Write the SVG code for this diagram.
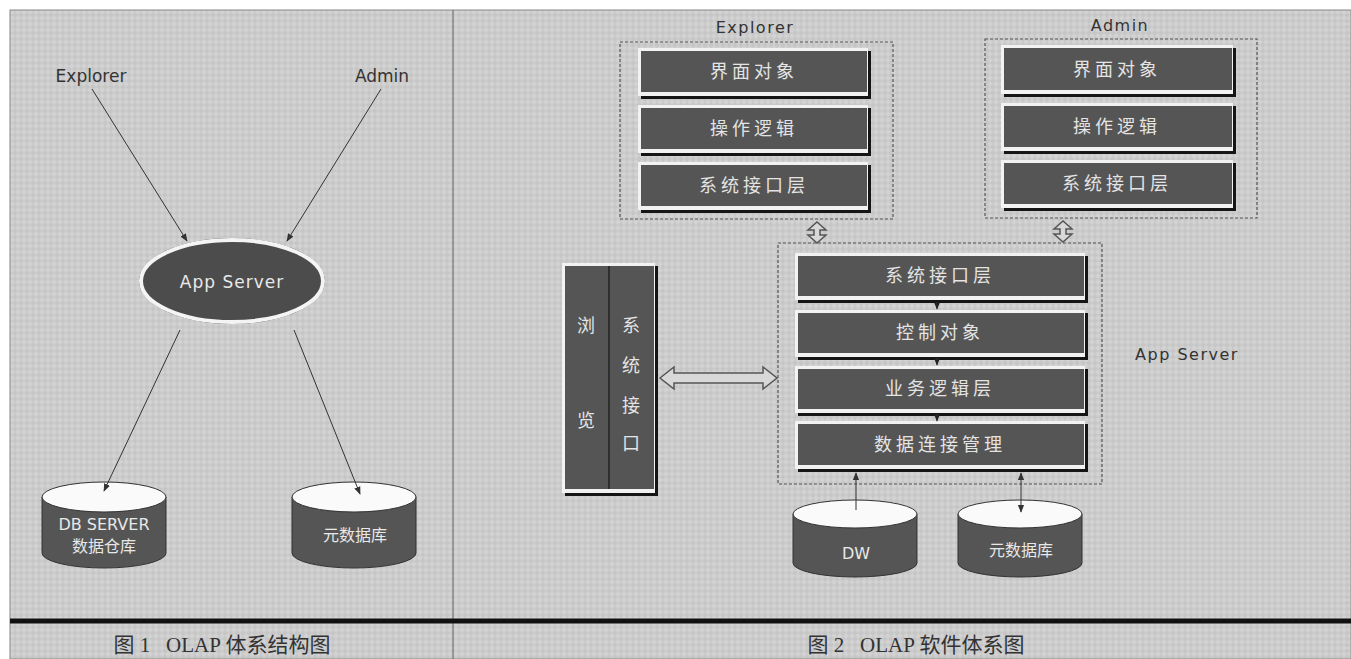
<svg xmlns="http://www.w3.org/2000/svg" width="1351" height="659" viewBox="0 0 1351 659">
<defs>
<pattern id="tex" width="6" height="6" patternUnits="userSpaceOnUse">
<rect width="6" height="6" fill="#d2d2d2"/>
<path d="M0,3 L3,0 L6,3 L3,6 Z" fill="#c6c6c6"/>
</pattern>
<marker id="ah" viewBox="0 0 10 10" refX="9" refY="5" markerWidth="8" markerHeight="8" orient="auto-start-reverse" markerUnits="userSpaceOnUse">
<path d="M0,1 L10,5 L0,9 Z" fill="#333"/>
</marker>
<marker id="ahs" viewBox="0 0 10 10" refX="9" refY="5" markerWidth="7" markerHeight="7" orient="auto-start-reverse" markerUnits="userSpaceOnUse">
<path d="M0,1 L10,5 L0,9 Z" fill="#222"/>
</marker>
</defs>
<style>
.sh{fill:#151515}
.hl{fill:#f2f2f2}
.face{fill:#555555}
.bt{font-family:"Noto Sans CJK SC","Noto Sans",sans-serif;font-size:18px;fill:#e4e4e4;text-anchor:middle;letter-spacing:4px}
.lbl{font-family:"DejaVu Sans","Liberation Sans",sans-serif;font-size:17px;fill:#333;text-anchor:middle}
.lbl2{font-family:"DejaVu Sans","Liberation Sans",sans-serif;font-size:16px;fill:#333;text-anchor:middle;letter-spacing:1.5px}
.ct{font-family:"Noto Sans CJK SC","DejaVu Sans",sans-serif;font-size:16px;fill:#e8e8e8;text-anchor:middle}
.cap{font-family:"Liberation Serif","Noto Sans CJK SC",serif;font-size:21px;fill:#333;text-anchor:middle;white-space:pre}
.dash{fill:none;stroke:#555;stroke-width:1.2;stroke-dasharray:3,2}
.ln{stroke:#333;stroke-width:1;fill:none}
.cylb{fill:#555;stroke:#333;stroke-width:1}
.cylt{fill:#fafafa;stroke:#333;stroke-width:1}
.hollow{fill:#d8d8d8;stroke:#555;stroke-width:1.5}
</style>
<rect width="1351" height="659" fill="#ffffff"/>
<rect x="10" y="10" width="1341" height="649" fill="url(#tex)"/>
<rect x="10" y="10" width="1341" height="649" fill="none" stroke="#888" stroke-width="1"/>
<line x1="453" y1="10" x2="453" y2="659" stroke="#666" stroke-width="1"/>
<line x1="10" y1="621" x2="1351" y2="621" stroke="#111" stroke-width="5"/>

<g id="caption1"><text class="cap" x="222" y="652" xml:space="preserve">图 1   OLAP 体系结构图</text></g>
<g id="caption2"><text class="cap" x="916" y="652" xml:space="preserve">图 2   OLAP 软件体系图</text></g>

<!-- Figure 1 -->
<g id="f1-explorer"><text class="lbl" x="91" y="82">Explorer</text></g>
<g id="f1-admin"><text class="lbl" x="382" y="82">Admin</text></g>
<g id="f1-appserver">
<ellipse cx="232" cy="281" rx="93" ry="43" fill="#222"/>
<ellipse cx="232" cy="281" rx="91" ry="41" fill="#4c4c4c" stroke="#f4f4f4" stroke-width="4"/>
<text class="ct" x="232" y="288" style="font-family:'DejaVu Sans','Liberation Sans',sans-serif;font-size:17px;letter-spacing:1px">App Server</text>
</g>
<g id="f1-dbserver">
<path class="cylb" d="M42,497 L42,553 A62,15 0 0 0 166,553 L166,497 Z"/>
<ellipse class="cylt" cx="104" cy="497" rx="62" ry="15"/>
<text class="ct" x="104" y="530" style="font-family:'DejaVu Sans','Liberation Sans',sans-serif">DB SERVER</text>
<text class="ct" x="104" y="552">数据仓库</text>
</g>
<g id="f1-meta">
<path class="cylb" d="M292,497 L292,553 A62,15 0 0 0 416,553 L416,497 Z"/>
<ellipse class="cylt" cx="354" cy="497" rx="62" ry="15"/>
<text class="ct" x="355" y="541">元数据库</text>
</g>

<!-- Figure 2: Explorer -->
<g id="f2-explorer">
<text class="lbl2" x="755" y="33">Explorer</text>
<rect class="dash" x="620" y="42" width="273" height="177"/>
<g id="exp-ui"><rect class="sh" x="641" y="51" width="230" height="48"/><rect class="hl" x="638" y="48" width="230" height="48"/><rect class="face" x="641" y="51" width="226" height="41"/><text class="bt" x="754" y="78">界面对象</text></g>
<g id="exp-op"><rect class="sh" x="641" y="108" width="230" height="48"/><rect class="hl" x="638" y="105" width="230" height="48"/><rect class="face" x="641" y="108" width="226" height="41"/><text class="bt" x="754" y="135">操作逻辑</text></g>
<g id="exp-if"><rect class="sh" x="641" y="165" width="230" height="48"/><rect class="hl" x="638" y="162" width="230" height="48"/><rect class="face" x="641" y="165" width="226" height="41"/><text class="bt" x="754" y="192">系统接口层</text></g>
</g>

<!-- Figure 2: Admin -->
<g id="f2-admin">
<text class="lbl2" x="1120" y="31">Admin</text>
<rect class="dash" x="985" y="39" width="272" height="179"/>
<g id="adm-ui"><rect class="sh" x="1004" y="48" width="232" height="49"/><rect class="hl" x="1001" y="45" width="232" height="49"/><rect class="face" x="1004" y="48" width="228" height="42"/><text class="bt" x="1117" y="76">界面对象</text></g>
<g id="adm-op"><rect class="sh" x="1004" y="106" width="232" height="48"/><rect class="hl" x="1001" y="103" width="232" height="48"/><rect class="face" x="1004" y="106" width="228" height="41"/><text class="bt" x="1117" y="133">操作逻辑</text></g>
<g id="adm-if"><rect class="sh" x="1004" y="163" width="232" height="48"/><rect class="hl" x="1001" y="160" width="232" height="48"/><rect class="face" x="1004" y="163" width="228" height="41"/><text class="bt" x="1117" y="190">系统接口层</text></g>
</g>

<!-- Figure 2: App Server -->
<g id="f2-appserver">
<rect class="dash" x="778" y="243" width="324" height="241"/>
<text class="lbl2" x="1187" y="360">App Server</text>
<g id="as-if"><rect class="sh" x="798" y="256" width="290" height="47"/><rect class="hl" x="795" y="253" width="290" height="47"/><rect class="face" x="798" y="256" width="286" height="40"/><text class="bt" x="940" y="282">系统接口层</text></g>
<g id="as-ctl"><rect class="sh" x="798" y="313" width="290" height="47"/><rect class="hl" x="795" y="310" width="290" height="47"/><rect class="face" x="798" y="313" width="286" height="40"/><text class="bt" x="940" y="339">控制对象</text></g>
<g id="as-biz"><rect class="sh" x="798" y="369" width="290" height="47"/><rect class="hl" x="795" y="366" width="290" height="47"/><rect class="face" x="798" y="369" width="286" height="40"/><text class="bt" x="940" y="395">业务逻辑层</text></g>
<g id="as-data"><rect class="sh" x="798" y="424" width="290" height="48"/><rect class="hl" x="795" y="421" width="290" height="48"/><rect class="face" x="798" y="424" width="286" height="41"/><text class="bt" x="940" y="451">数据连接管理</text></g>
</g>

<!-- Browser -->
<g id="f2-browser">
<rect class="sh" x="565" y="266" width="93" height="230"/>
<rect class="hl" x="562" y="263" width="93" height="230"/>
<rect class="face" x="565" y="266" width="89" height="223"/>
<line x1="609" y1="266" x2="609" y2="489" stroke="#222" stroke-width="1.5"/>
<text class="bt" x="586" y="332" style="letter-spacing:0">浏</text>
<text class="bt" x="586" y="427" style="letter-spacing:0">览</text>
<text class="bt" x="631" y="332" style="letter-spacing:0">系</text>
<text class="bt" x="631" y="372" style="letter-spacing:0">统</text>
<text class="bt" x="631" y="412" style="letter-spacing:0">接</text>
<text class="bt" x="631" y="450" style="letter-spacing:0">口</text>
</g>

<!-- Cylinders -->
<g id="f2-dw">
<path class="cylb" d="M793,514 L793,563 A62,14 0 0 0 917,563 L917,514 Z"/>
<ellipse class="cylt" cx="855" cy="514" rx="62" ry="14"/>
<text class="ct" x="856" y="559" style="font-family:'DejaVu Sans','Liberation Sans',sans-serif">DW</text>
</g>
<g id="f2-meta">
<path class="cylb" d="M958,514 L958,563 A62,14 0 0 0 1082,563 L1082,514 Z"/>
<ellipse class="cylt" cx="1020" cy="514" rx="62" ry="14"/>
<text class="ct" x="1021" y="556">元数据库</text>
</g>

<!-- Connectors -->
<g id="connectors">
<line class="ln" x1="92" y1="89" x2="187" y2="241" marker-end="url(#ah)"/>
<line class="ln" x1="381" y1="89" x2="287" y2="241" marker-end="url(#ah)"/>
<line class="ln" x1="180" y1="330" x2="104" y2="491" marker-end="url(#ah)"/>
<line class="ln" x1="294" y1="330" x2="360" y2="494" marker-end="url(#ah)"/>
<path class="hollow" d="M660,378 L674,367 L674,373 L763,373 L763,367 L777,378 L763,389 L763,383 L674,383 L674,389 Z"/>
<path class="hollow" d="M817,222 L826,230 L820,230 L820,235 L826,235 L817,243 L808,235 L814,235 L814,230 L808,230 Z"/>
<path class="hollow" d="M1063,221 L1072,229 L1066,229 L1066,234 L1072,234 L1063,242 L1054,234 L1060,234 L1060,229 L1054,229 Z"/>
<line class="ln" x1="937" y1="302" x2="937" y2="309" marker-end="url(#ahs)"/>
<line class="ln" x1="937" y1="358" x2="937" y2="365" marker-end="url(#ahs)"/>
<line class="ln" x1="937" y1="414" x2="937" y2="421" marker-end="url(#ahs)"/>
<line class="ln" x1="856" y1="510" x2="856" y2="473" marker-end="url(#ah)"/>
<line class="ln" x1="1021" y1="473" x2="1021" y2="512" marker-start="url(#ah)" marker-end="url(#ah)"/>
</g>
</svg>
